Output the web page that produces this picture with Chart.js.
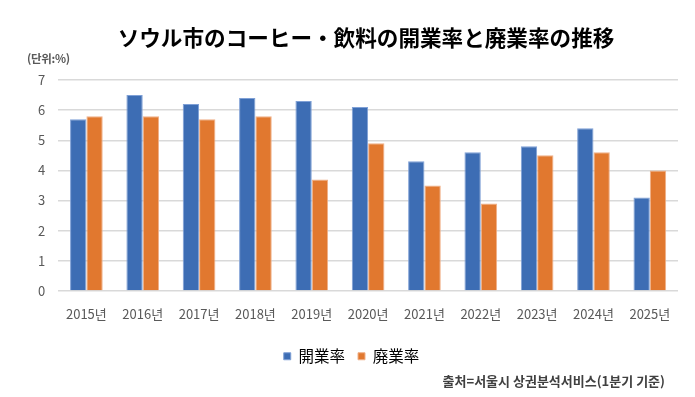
<!DOCTYPE html>
<html><head><meta charset="utf-8">
<script src="https://cdn.jsdelivr.net/npm/chart.js@4/dist/chart.umd.min.js"></script>
<style>
html,body{margin:0;padding:0;background:#fff;}
#wrap{position:relative;width:695px;height:397px;}
#title{position:absolute;left:0;width:732px;top:22px;text-align:center;font-family:"Noto Sans CJK JP";font-weight:700;font-size:21.6px;color:#000;line-height:30px;}
#unit{position:absolute;left:27px;top:50px;font-family:"Noto Sans CJK KR";font-weight:700;font-size:11.5px;color:#595959;letter-spacing:-0.3px;}
#src{position:absolute;right:30px;top:371px;font-family:"Noto Sans CJK KR";font-weight:700;font-size:13px;color:#404040;}
canvas{position:absolute;left:0;top:0;}
</style></head>
<body><div id="wrap">
<canvas id="c" width="695" height="397"></canvas>
<div id="title">ソウル市のコーヒー・飲料の開業率と廃業率の推移</div>
<div id="unit">(단위:%)</div>
<div id="src">출처=서울시 상권분석서비스(1분기 기준)</div>
</div>
<script>
const categories = ["2015년","2016년","2017년","2018년","2019년","2020년","2021년","2022년","2023년","2024년","2025년"];
const openRate  = [5.7, 6.5, 6.2, 6.4, 6.3, 6.1, 4.3, 4.6, 4.8, 5.4, 3.1];
const closeRate = [5.8, 5.8, 5.7, 5.8, 3.7, 4.9, 3.5, 2.9, 4.5, 4.6, 4.0];
const seriesNames = ["開業率","廃業率"];
const yTicks = [0,1,2,3,4,5,6,7];

new Chart(document.getElementById('c'), {
  type: 'bar',
  data: {
    labels: categories,
    datasets: [
      {label: seriesNames[0], data: openRate, backgroundColor: '#3D6DB4', borderColor: '#7FA0D6', borderWidth: 1},
      {label: seriesNames[1], data: closeRate, backgroundColor: '#E1782F', borderColor: '#F0B088', borderWidth: 1}
    ]
  },
  options: {
    responsive: false,
    animation: false,
    devicePixelRatio: 1,
    categoryPercentage: 0.58,
    barPercentage: 1.0,
    layout: {padding: {top: 80, left: 25, right: 17, bottom: 23}},
    plugins: {
      title: {display: false},
      tooltip: {enabled: false},
      legend: {
        position: 'bottom',
        labels: {boxWidth: 7, boxHeight: 7, color: '#000', font: {family: '"Noto Sans CJK JP"', size: 15.5}, padding: 13},
      }
    },
    scales: {
      x: {
        grid: {display: false},
        border: {display: false},
        afterFit: (s) => { s.height += 7; },
        ticks: {color: '#595959', font: {family: '"Noto Sans CJK KR"', size: 13}, padding: 7}
      },
      y: {
        min: 0, max: 7,
        afterBuildTicks: (s) => { s.ticks = yTicks.map(v => ({value: v})); },
        grid: {color: '#D9D9D9', lineWidth: 1.5, drawTicks: false},
        border: {display: false},
        ticks: {color: '#595959', font: {family: '"Noto Sans CJK KR"', size: 13}, padding: 13}
      }
    }
  }
});
</script>
</body></html>
